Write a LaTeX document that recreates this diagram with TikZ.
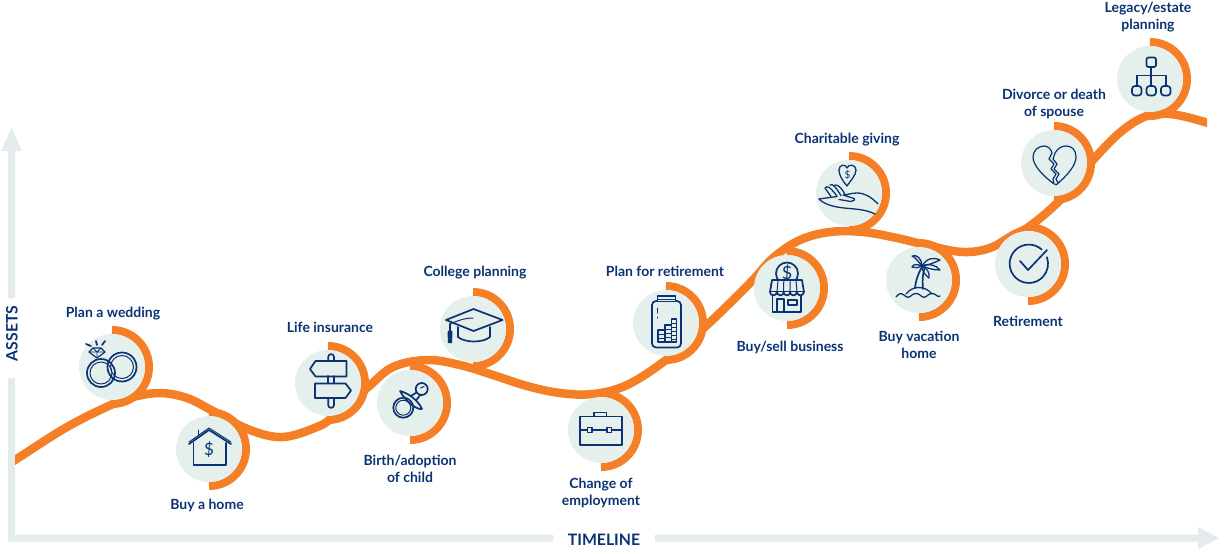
\documentclass[tikz,border=0pt]{standalone}
\usepackage{fontspec}
\setmainfont{Lato}
\definecolor{navy}{HTML}{0B3373}
\definecolor{orng}{HTML}{F57F27}
\definecolor{disc}{HTML}{E5EFEC}
\definecolor{axisc}{HTML}{E3EBEC}
\tikzset{
  discnode/.style={circle,fill=disc,minimum size=66pt,inner sep=0pt},
  ringline/.style={draw=orng,line width=8pt},
  pathline/.style={draw=orng,line width=8.5pt},
  lbl/.style={text=navy,font=\fontsize{14}{17}\selectfont\bfseries,align=center,inner sep=0pt},
  axlbl/.style={text=navy,font=\fontsize{15.8}{17}\selectfont\bfseries,inner sep=0pt},
  icon/.style={draw=navy,line width=1.7pt,line join=round,line cap=round},
  thin/.style={draw=navy,line width=1pt,line join=round,line cap=round},
  dollar/.style={text=navy,inner sep=0pt}
}
\newcommand{\stopat}[3]{%
  \draw[ringline] (#2,#3-37) arc[start angle=90,end angle=-90,radius=37pt];
  \node[discnode] (#1) at (#2,#3) {};}
\begin{document}
\begin{tikzpicture}[x=1pt,y=-1pt]
\useasboundingbox (0,0) rectangle (1224,554);
% axes
\fill[axisc] (8,298) -- (8,151) -- (1,151) -- (11.5,128) -- (22,151) -- (15,151) -- (15,298) -- cycle;
\fill[axisc] (8,378) -- (15,378) -- (15,534.5) -- (553,534.5) -- (553,541.7) -- (8,541.7) -- cycle;
\fill[axisc] (655,534.5) -- (1198,534.5) -- (1198,527) -- (1219,538) -- (1198,549) -- (1198,541.7) -- (655,541.7) -- cycle;
\node[axlbl,rotate=90] (assets) at (12,333.5) {ASSETS};
\node[axlbl] (timeline) at (604,539.5) {TIMELINE};
% curve
\begin{scope}
\clip (15,0) rectangle (1207,554);
\draw[pathline] plot[smooth,tension=0.6] coordinates {
 (5,466) (15,460) (67,427) (113,404) (133,397) (160,393) (187,398) (213,411) (250,430) (283,437) (317,427) (333,417)
 (367,388) (393,367) (427,360) (460,365) (493,375) (527,386) (560,393) (593,394) (627,385) (666,360)
 (707,325) (750,283) (773,258) (800,240) (830,232) (863,232) (897,238) (930,246) (963,252) (990,248) (1013,235) (1030,226)
 (1060,200) (1093,160) (1123,130) (1150,115) (1177,115) (1215,125)};
\end{scope}
% stops
\stopat{wed}{112}{367}
\stopat{home}{209}{449}
\stopat{life}{328}{383}
\stopat{birth}{410}{403}
\stopat{college}{473}{329}
\stopat{job}{601}{430}
\stopat{plan}{666}{323}
\stopat{biz}{787}{288}
\stopat{give}{849}{193}
\stopat{vac}{919}{280}
\stopat{ret}{1028}{264}
\stopat{div}{1054}{163}
\stopat{leg}{1150}{79}
% labels
\node[lbl] (l1) at (113,313.5) {Plan a wedding};
\node[lbl] (l2) at (207,505) {Buy a home};
\node[lbl] (l3) at (330,327) {Life insurance};
\node[lbl] (l4) at (410,468.5) {Birth/adoption\\of child};
\node[lbl] (l5) at (475,273) {College planning};
\node[lbl] (l6) at (601,493) {Change of\\employment};
\node[lbl] (l7) at (665,271.5) {Plan for retirement};
\node[lbl] (l8) at (790,347) {Buy/sell business};
\node[lbl] (l9) at (847,140) {Charitable giving};
\node[lbl] (l10) at (919,344.5) {Buy vacation\\home};
\node[lbl] (l11) at (1028,321) {Retirement};
\node[lbl] (l12) at (1054,104) {Divorce or death\\of spouse};
\node[lbl] (l13) at (1148,17) {Legacy/estate\\planning};
% rings icon
\begin{scope}[shift={(112,367)}]
 \draw[icon] (-11,6) circle (14); \draw[thin] (-11,6) circle (11);
 \draw[icon] (10,0) circle (14.5); \draw[thin] (10,0) circle (11.5);
 \draw[thin,line width=1.2pt] (-23,-15) -- (-19,-19) -- (-11,-19) -- (-7,-15) -- (-15,-9) -- cycle;
 \draw[thin,line width=.8pt] (-23,-15) -- (-7,-15) (-19,-19) -- (-15,-15) -- (-11,-19) (-15,-15) -- (-15,-9);
 \draw[icon] (-26,-23) -- (-21,-21) (-16,-26) -- (-15,-22) (-7,-26) -- (-10,-22);
\end{scope}
% house
\begin{scope}[shift={(209,449)}]
 \draw[icon] (-20,-5) -- (0,-19) -- (22,-5);
 \draw[thin] (-20,-7) -- (0,-21) -- (22,-7);
 \draw[icon] (-15.5,-6) -- (-15.5,16) -- (17,16) -- (17,-6);
 \draw[thin] (-11,-14) -- (-11,-19) ;
 \node[dollar,font=\fontsize{17}{17}\selectfont] (hd) at (0,1) {\$};
\end{scope}
% signpost
\begin{scope}[shift={(328,383)}]
 \draw[icon] (0.2,-22) -- (0.2,-26) arc[start angle=180,end angle=0,radius=2.9pt] -- (6,-22);
 \draw[icon] (0.2,-7) -- (0.2,0) (6,-7) -- (6,0);
 \draw[icon] (0.2,15) -- (0.2,22) arc[start angle=180,end angle=360,radius=2.9pt] -- (6,15);
 \draw[icon] (18.5,-22) -- (-12.5,-22) -- (-18,-14) -- (-12.5,-6.5) -- (18.5,-6.5) -- cycle;
 \draw[icon] (-13,0.5) -- (17.5,0.5) -- (23,7.5) -- (17.5,15) -- (-13,15) -- cycle;
\end{scope}
% pacifier
\begin{scope}[shift={(410,403)}]
 \draw[icon] (-6.7,4.7) circle (10); \draw[thin] (-6.7,4.7) circle (7.5);
 \draw[icon] (-10,-12) .. controls (-2,-10) and (8,-3) .. (12,6) .. controls (7,7) and (-4,-1) .. (-10,-12);
 \draw[icon] (1,-7) -- (6.5,-10.5) (6,-2.5) -- (10.5,-8.5);
 \draw[icon] (11.7,-14) circle (6);
 \draw[thin] (10.5,-15) -- (14,-16.5);
\end{scope}
% cap
\begin{scope}[shift={(473,329)}]
 \draw[icon] (-27,-9) -- (0.5,-20) -- (29.5,-9) -- (0.5,2) -- cycle;
 \draw[icon] (-15,-2) -- (-15,8) .. controls (-8,14) and (10,14) .. (17,8) -- (17,-2);
 \draw[thin] (-23,-5) .. controls (-12,-10) and (-5,-11) .. (0,-11);
 \draw[icon] (-23,-5) -- (-23,2);
 \fill[navy] (-23,0) -- (-20.5,3) -- (-21,14) -- (-25,14) -- (-25.5,3) -- cycle;
\end{scope}
% briefcase
\begin{scope}[shift={(601,430)}]
 \draw[icon] (-21,-13.5) rectangle (21,15);
 \draw[icon] (-21,0) -- (-13.5,0) (-9,0) -- (6,0) (10.5,0) -- (21,0);
 \draw[icon] (-13.5,-2.5) rectangle (-9,2.5); 
 \draw[icon] (6,-2.5) rectangle (10.5,2.5);
 \draw[icon] (-7,-14) -- (-7,-17.5) -- (5.5,-17.5) -- (5.5,-14);
\end{scope}
% jar
\begin{scope}[shift={(666,323)}]
 \draw[icon,rounded corners=4pt] (-14,-22) rectangle (15,24.5);
 \draw[icon,fill=disc] (-8.5,-22) -- (-8.5,-27) -- (9.5,-27) -- (9.5,-22);
 \draw[thin] (-8.5,-24) -- (9.5,-24);
 \draw[thin,line width=1.3pt] (-8,7) rectangle (-1,19);
 \draw[thin,line width=1.3pt] (-1,2) rectangle (5.5,19);
 \draw[thin,line width=1.3pt] (5.5,-4) rectangle (10.5,19);
 \foreach \yy in {11,15} \draw[thin] (-8,\yy) -- (-1,\yy);
 \foreach \yy in {6,10,14} \draw[thin] (-1,\yy) -- (5.5,\yy);
 \foreach \yy in {0,4,8,12,16} \draw[thin] (5.5,\yy) -- (10.5,\yy);
 \draw[thin] (-9,-15) -- (-9,-10) (-9,-6) -- (-9,-5);
\end{scope}
% store
\begin{scope}[shift={(787,288)}]
 \draw[icon] (0,-14.5) circle (11);
 \node[dollar,font=\fontsize{18}{18}\selectfont] (sd) at (0,-14.5) {\$};
 \draw[icon,fill=disc] (-15,-8) -- (15,-8) -- (17,4) -- (-17,4) -- cycle;
 \foreach \xa in {-17,-10,-3.5,3,10} {\draw[icon,fill=disc] (\xa,4) arc[start angle=180,end angle=360,x radius=3.4pt,y radius=3.4pt];}
 \draw[thin] (-15,-8) -- (-17,4) (-9,-8) -- (-10,4) (-3.2,-8) -- (-3.5,4) (3,-8) -- (3,4) (9,-8) -- (10,4);
 \draw[icon] (-14.5,8) -- (-14.5,24) -- (14,24) -- (14,8);
 \draw[icon] (-10,24) -- (-10,11) -- (-3,11) -- (-3,24);
 \draw[icon] (1,12) rectangle (10,17);
\end{scope}
% hand and heart
\begin{scope}[shift={(849,193)}]
 \draw[icon,line width=1.3pt] (-2,-7) .. controls (-7,-13) and (-10,-18) .. (-10,-23) .. controls (-10,-29) and (-3,-29) .. (-2,-25) .. controls (-1,-29) and (7,-29) .. (7,-23) .. controls (7,-18) and (2,-13) .. (-2,-7);
 \node[dollar,font=\fontsize{10}{10}\selectfont] (gd) at (-1.5,-18.5) {\$};
 \draw[icon,line width=1.3pt] (29,11) .. controls (22,4) and (16,0) .. (8,0) .. controls (2,0) and (-2,2) .. (-6,2) -- (5,5.5) .. controls (7,6.5) and (4,8.5) .. (2,8.5) -- (-10,6.5);
 \draw[icon,line width=1.3pt] (-30,6) -- (-12,3.5);
 \draw[icon,line width=1.3pt] (-30,6) .. controls (-24,12) and (-14,14) .. (-5,15) .. controls (4,16) and (16,16) .. (26,21);
 \draw[icon,line width=1.3pt] (-24,-5) .. controls (-22,-8) and (-19,-6) .. (-12,3) (-19,-8) .. controls (-16,-10) and (-13,-5) .. (-8,2.5) (-14,-8) .. controls (-11,-9) and (-6,-3) .. (-4,1.5) (-24,-5) -- (-18,3.5);
\end{scope}
% palm
\begin{scope}[shift={(919,280)}]
 \draw[icon] (-4,8) .. controls (-3,-1) and (0,-8) .. (3,-13) (4,9) .. controls (3,-1) and (4,-8) .. (6,-13);
 \draw[icon,line width=1.3pt] (3,-14) .. controls (-1,-19) and (-4,-23) .. (-7,-24) .. controls (-2,-26) and (3,-21) .. (3,-14);
 \draw[icon,line width=1.3pt] (3,-14) .. controls (-2,-16) and (-6,-16) .. (-7,-13) .. controls (-3,-12) and (0,-12) .. (3,-14);
 \draw[icon,line width=1.3pt] (3,-14) .. controls (8,-22) and (14,-23) .. (21,-20) .. controls (15,-17) and (9,-15) .. (3,-14);
 \draw[icon,line width=1.3pt] (3,-14) .. controls (10,-17) and (17,-15) .. (21,-10) .. controls (14,-10) and (8,-12) .. (3,-14);
 \draw[icon,line width=1.3pt] (3,-14) .. controls (8,-12) and (11,-7) .. (10,-2) .. controls (6,-5) and (3,-9) .. (3,-14);
 \draw[icon,line width=1.3pt] (-13,14) .. controls (-9,9) and (-5,8) .. (-1,7.5) .. controls (4,7.5) and (9,9) .. (13,14);
 \draw[icon,line width=1.3pt] (-23,17) .. controls (-20,13) and (-18,13) .. (-15,15) .. controls (-12,18) and (-10,18) .. (-7,15) .. controls (-4,13) and (-2,13) .. (1,15) .. controls (4,18) and (6,18) .. (9,15) .. controls (12,13) and (14,13) .. (17,15) .. controls (19,17) and (20,17) .. (21,16);
\end{scope}
% retirement check
\begin{scope}[shift={(1028,264)}]
 \draw[icon] (.7,0) ++ (13,-14.5) arc[start angle=48,end angle=380,radius=19.2pt];
 \draw[icon] (-8,-3) -- (0,6) -- (19,-14);
\end{scope}
% broken heart
\begin{scope}[shift={(1054,163)}]
 \draw[thin,line width=1.2pt] (0,21) .. controls (-12,12) and (-21,2) .. (-21,-6) .. controls (-21,-13) and (-15,-17) .. (-10,-17) .. controls (-6,-17) and (-3,-14) .. (-2,-10) -- (-5,-4) -- (0,1) -- (-3,6) -- (2,11) -- (-1,16) -- (0,21);
 \draw[thin,line width=1.2pt] (1,-10) .. controls (4,-15) and (8,-17) .. (12,-17) .. controls (18,-17) and (22,-13) .. (22,-6) .. controls (22,2) and (14,12) .. (2,22) -- (1,21) (1,-10) -- (-1,-4) -- (3,1) -- (0,6) -- (5,11) -- (2,16) -- (4,20);
\end{scope}
% org chart
\begin{scope}[shift={(1150,79)}]
 \draw[icon,rounded corners=2pt] (-3.5,-21.5) rectangle (6,-12);
 \draw[icon] (1.3,-12) -- (1.3,7) (-13,7) -- (-13,-3.5) -- (16,-3.5) -- (16,7);
 \draw[icon,rounded corners=3pt] (-18,7) rectangle (-8.5,16.5);
 \draw[icon,rounded corners=3pt] (-3.5,7) rectangle (6,16.5);
 \draw[icon,rounded corners=3pt] (11,7) rectangle (20.5,16.5);
\end{scope}
\end{tikzpicture}
\end{document}
